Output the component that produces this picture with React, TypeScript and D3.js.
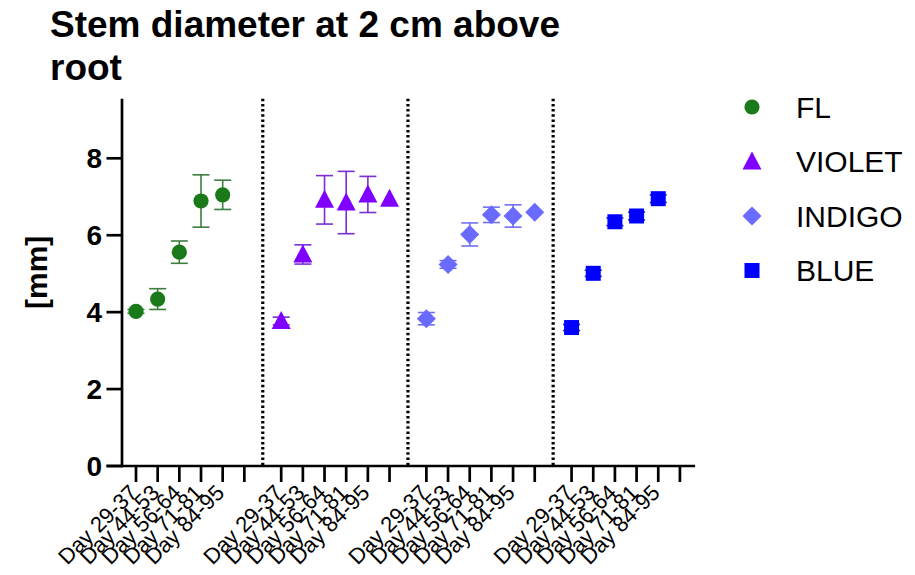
import React from "react";
import * as d3 from "d3";

const categories = ["Day 29-37", "Day 44-53", "Day 56-64", "Day 71-81", "Day 84-95", ""];
const groupNames = ["FL", "VIOLET", "INDIGO", "BLUE"];
const flMean = [4.02, 4.34, 5.56, 6.89, 7.05, null];
const flErr = [0.05, 0.27, 0.29, 0.68, 0.38, null];
const violetMean = [3.77, 5.5, 6.92, 6.85, 7.06, 6.95];
const violetErr = [0.1, 0.25, 0.63, 0.81, 0.47, 0];
const indigoMean = [3.83, 5.24, 6.02, 6.53, 6.5, 6.6];
const indigoErr = [0.16, 0.1, 0.3, 0.2, 0.29, 0];
const blueMean = [3.6, 5.01, 6.35, 6.5, 6.95, null];
const blueErr = [0.08, 0.08, 0.1, 0.1, 0.1, null];
const yTicks = [0, 2, 4, 6, 8];

const means = [flMean, violetMean, indigoMean, blueMean];
const errs = [flErr, violetErr, indigoErr, blueErr];
const colors = ["#1a7a1a", "#7f00ff", "#6a6aff", "#0000ff"];
const barColors = ["#3d7d3d", "#7a2fd6", "#7070f0", "#2020c0"];
const shapes = ["circle", "triangle", "diamond", "square"];

const FONT = "'Liberation Sans', Arial, Helvetica, sans-serif";
const GROUP_STRIDE = 6.7;

function Marker({ shape, color, x, y }: { shape: string; color: string; x: number; y: number }) {
  if (shape === "circle") return <circle cx={x} cy={y} r={7.6} fill={color} />;
  if (shape === "triangle")
    return <path d={`M${x},${y - 10}L${x + 9.5},${y + 8}L${x - 9.5},${y + 8}Z`} fill={color} />;
  if (shape === "diamond")
    return <path d={`M${x},${y - 9.5}L${x + 9.5},${y}L${x},${y + 9.5}L${x - 9.5},${y}Z`} fill={color} />;
  return <rect x={x - 7.5} y={y - 7.5} width={15} height={15} fill={color} />;
}

export default function App() {
  const x = d3.scaleLinear().domain([0, 1]).range([136, 157.67]);
  const y = d3.scaleLinear().domain([0, 8]).range([466, 158.3]);
  const pos = (g: number, i: number) => x(g * GROUP_STRIDE + i);
  const axisX = x(-0.646);
  const axisEnd = x(3 * GROUP_STRIDE + 5.7);
  const yTop = y(9.55);
  const yZero = y(0);

  const dividers = [1, 2, 3].map((g) => (pos(g - 1, 5) + pos(g, 0)) / 2);

  return (
    <svg width={915} height={575} style={{ position: "absolute", left: 0, top: 0, background: "#fff" }} fontFamily={FONT}>
      <rect width={915} height={575} fill="#fff" />
      {/* title */}
      <text x={50} y={37} fontSize={37} fontWeight="bold" fill="#000">Stem diameter at 2 cm above</text>
      <text x={50} y={80} fontSize={37} fontWeight="bold" fill="#000">root</text>

      {/* y label */}
      <text transform={`translate(47,${(yZero + yTop) / 2 - 10}) rotate(-90)`} textAnchor="middle" fontSize={30} fontWeight="bold">[mm]</text>

      {/* dividers */}
      {dividers.map((dx, k) => (
        <line key={k} x1={dx} x2={dx} y1={yTop} y2={yZero} stroke="#000" strokeWidth={3.2} strokeDasharray="2.5,2.7" />
      ))}

      {/* axes */}
      <line x1={axisX} x2={axisX} y1={yTop} y2={yZero + 1.3} stroke="#000" strokeWidth={2.7} />
      <line x1={axisX - 15.5} x2={axisEnd} y1={yZero} y2={yZero} stroke="#000" strokeWidth={2.7} />
      {yTicks.map((t) => (
        <g key={t}>
          <line x1={axisX - 15.5} x2={axisX} y1={y(t)} y2={y(t)} stroke="#000" strokeWidth={2.7} />
          <text x={102} y={y(t)} dy="0.36em" textAnchor="end" fontSize={28} fontWeight="bold">{t}</text>
        </g>
      ))}
      {groupNames.map((gname, g) =>
        categories.map((c, i) => (
          <g key={`${gname}-${i}`}>
            <line x1={pos(g, i)} x2={pos(g, i)} y1={yZero} y2={yZero + 16} stroke="#000" strokeWidth={2.7} />
            {c && (
              <text transform={`translate(${pos(g, i) + 3},${yZero + 28}) rotate(-45)`} textAnchor="end" fontSize={22}>{c}</text>
            )}
          </g>
        ))
      )}

      {/* error bars */}
      {groupNames.map((gname, g) =>
        means[g].map((m, i) => {
          const e = errs[g][i];
          if (m == null || !e) return null;
          const cx = pos(g, i);
          return (
            <g key={`eb-${gname}-${i}`} stroke={barColors[g]} strokeWidth={1.6}>
              <line x1={cx} x2={cx} y1={y(m + e)} y2={y(m - e)} />
              <line x1={cx - 8.5} x2={cx + 8.5} y1={y(m + e)} y2={y(m + e)} />
              <line x1={cx - 8.5} x2={cx + 8.5} y1={y(m - e)} y2={y(m - e)} />
            </g>
          );
        })
      )}

      {/* markers */}
      {groupNames.map((gname, g) =>
        means[g].map((m, i) =>
          m == null ? null : <Marker key={`m-${gname}-${i}`} shape={shapes[g]} color={colors[g]} x={pos(g, i)} y={y(m)} />
        )
      )}

      {/* legend */}
      {groupNames.map((gname, g) => {
        const ly = 107 + g * 54.5;
        return (
          <g key={`lg-${gname}`}>
            <Marker shape={shapes[g]} color={colors[g]} x={752} y={ly} />
            <text x={796} y={ly} dy="0.36em" fontSize={30}>{gname}</text>
          </g>
        );
      })}
    </svg>
  );
}
